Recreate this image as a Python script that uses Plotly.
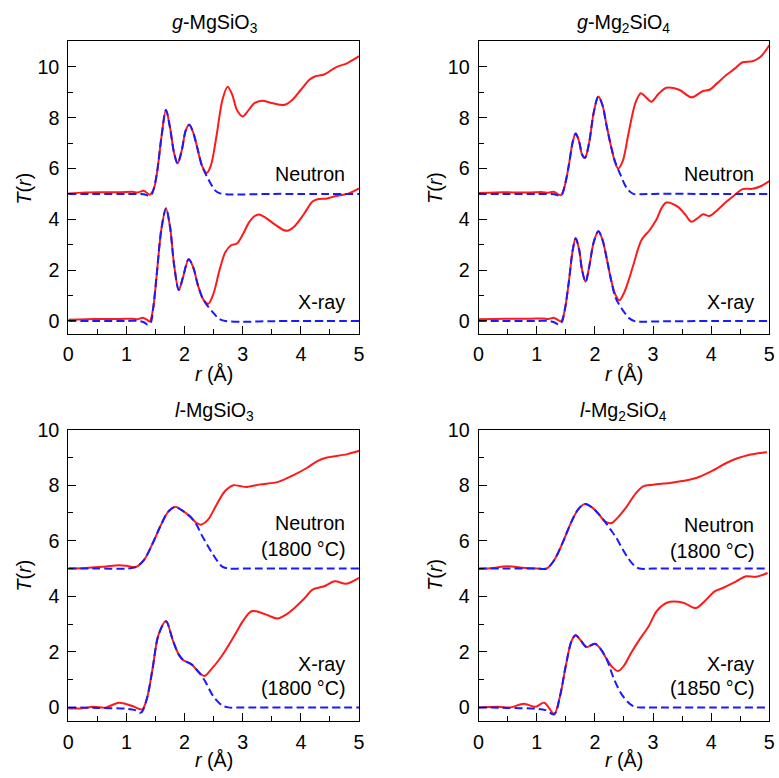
import plotly.graph_objects as go

# ---------------- data ----------------
# Panel A: g-MgSiO3
gA_neu_r = [0, 0.3, 0.6, 0.9, 1.1, 1.2, 1.3, 1.4, 1.47, 1.53, 1.6, 1.68, 1.75, 1.82, 1.88, 1.95, 2.02, 2.08, 2.15, 2.22, 2.3, 2.38, 2.45, 2.55, 2.65, 2.74, 2.82, 2.9, 3.0, 3.1, 3.2, 3.33, 3.5, 3.71, 3.85, 4.0, 4.15, 4.25, 4.4, 4.6, 4.8, 5.0]
gA_neu_T = [5.02, 5.06, 5.07, 5.07, 5.08, 5.06, 5.12, 4.97, 5.2, 5.9, 7.2, 8.3, 7.6, 6.6, 6.2, 6.7, 7.5, 7.72, 7.4, 6.8, 6.1, 5.82, 6.1, 7.3, 8.7, 9.22, 8.9, 8.3, 8.05, 8.3, 8.57, 8.67, 8.58, 8.5, 8.7, 9.1, 9.5, 9.63, 9.7, 9.98, 10.15, 10.42]
gA_neu_fit_r = [0, 0.5, 1.0, 1.2, 1.3, 1.38, 1.43, 1.47, 1.53, 1.6, 1.68, 1.75, 1.82, 1.88, 1.95, 2.02, 2.08, 2.15, 2.22, 2.3, 2.38, 2.45, 2.52, 2.6, 2.7, 3.0, 3.5, 4.0, 5.0]
gA_neu_fit_T = [5.0, 5.0, 5.0, 5.0, 4.99, 4.93, 4.97, 5.2, 5.9, 7.2, 8.3, 7.6, 6.6, 6.2, 6.7, 7.5, 7.72, 7.4, 6.8, 6.1, 5.7, 5.4, 5.15, 5.03, 4.99, 4.98, 5.0, 5.0, 5.0]
gA_xr_r = [0, 0.3, 0.6, 0.9, 1.1, 1.2, 1.28, 1.35, 1.4, 1.46, 1.52, 1.6, 1.68, 1.75, 1.82, 1.9, 1.97, 2.07, 2.15, 2.23, 2.32, 2.41, 2.5, 2.6, 2.7, 2.8, 2.9, 3.0, 3.1, 3.2, 3.28, 3.4, 3.55, 3.7, 3.77, 3.9, 4.05, 4.2, 4.3, 4.45, 4.6, 4.8, 5.0]
gA_xr_T = [0.05, 0.07, 0.08, 0.08, 0.09, 0.07, 0.13, 0.05, -0.02, 0.5, 1.8, 3.6, 4.43, 3.7, 2.2, 1.22, 1.7, 2.43, 2.1, 1.4, 0.85, 0.68, 1.1, 2.0, 2.7, 2.98, 3.05, 3.4, 3.85, 4.12, 4.19, 4.05, 3.8, 3.58, 3.55, 3.75, 4.2, 4.7, 4.8, 4.82, 4.92, 5.0, 5.22]
gA_xr_fit_r = [0, 0.5, 1.0, 1.2, 1.3, 1.37, 1.42, 1.46, 1.52, 1.6, 1.68, 1.75, 1.82, 1.9, 1.97, 2.07, 2.15, 2.23, 2.32, 2.41, 2.49, 2.56, 2.62, 2.7, 3.0, 3.5, 4.0, 5.0]
gA_xr_fit_T = [0, 0, 0, 0, -0.05, -0.15, -0.05, 0.5, 1.8, 3.6, 4.43, 3.7, 2.2, 1.22, 1.7, 2.43, 2.1, 1.4, 0.85, 0.55, 0.33, 0.15, 0.05, 0.0, -0.03, -0.01, 0, 0]

# Panel B: g-Mg2SiO4
gB_neu_r = [0, 0.3, 0.6, 0.9, 1.1, 1.2, 1.29, 1.42, 1.48, 1.55, 1.62, 1.67, 1.73, 1.78, 1.83, 1.9, 1.98, 2.06, 2.13, 2.2, 2.28, 2.34, 2.4, 2.48, 2.58, 2.7, 2.79, 2.88, 2.97, 3.1, 3.23, 3.45, 3.66, 3.86, 3.97, 4.1, 4.26, 4.4, 4.54, 4.71, 4.85, 5.0]
gB_neu_T = [5.04, 5.06, 5.06, 5.06, 5.07, 5.05, 5.08, 4.95, 5.3, 6.1, 7.05, 7.38, 7.05, 6.55, 6.42, 7.0, 8.2, 8.83, 8.5, 7.7, 6.85, 6.3, 6.0, 6.3, 7.4, 8.6, 8.96, 8.8, 8.63, 8.95, 9.18, 9.1, 8.8, 9.05, 9.1, 9.35, 9.68, 9.92, 10.18, 10.22, 10.4, 10.85]
gB_neu_fit_r = [0, 0.5, 1.0, 1.2, 1.3, 1.38, 1.43, 1.48, 1.55, 1.62, 1.67, 1.73, 1.78, 1.83, 1.9, 1.98, 2.06, 2.13, 2.2, 2.28, 2.35, 2.43, 2.55, 2.66, 2.8, 3.0, 4.0, 5.0]
gB_neu_fit_T = [5.0, 5.0, 5.0, 5.0, 4.99, 4.93, 4.97, 5.3, 6.1, 7.05, 7.38, 7.05, 6.55, 6.42, 7.0, 8.2, 8.83, 8.5, 7.7, 6.85, 6.25, 5.81, 5.22, 5.0, 4.99, 5.0, 5.0, 5.0]
gB_xr_r = [0, 0.3, 0.6, 0.9, 1.1, 1.2, 1.3, 1.42, 1.48, 1.55, 1.62, 1.67, 1.73, 1.78, 1.84, 1.9, 1.98, 2.06, 2.13, 2.2, 2.28, 2.35, 2.42, 2.5, 2.58, 2.66, 2.8, 2.94, 3.05, 3.15, 3.23, 3.43, 3.55, 3.66, 3.77, 3.86, 3.97, 4.1, 4.26, 4.4, 4.54, 4.71, 4.85, 5.0]
gB_xr_T = [0.07, 0.08, 0.09, 0.09, 0.1, 0.08, 0.12, -0.01, 0.4, 1.5, 2.8, 3.25, 2.8, 2.0, 1.54, 2.1, 3.1, 3.53, 3.2, 2.5, 1.6, 1.05, 0.81, 1.1, 1.6, 2.19, 3.18, 3.57, 3.95, 4.45, 4.66, 4.49, 4.2, 3.9, 4.05, 4.2, 4.13, 4.35, 4.69, 4.95, 5.19, 5.2, 5.3, 5.5]
gB_xr_fit_r = [0, 0.5, 1.0, 1.2, 1.3, 1.38, 1.43, 1.48, 1.55, 1.62, 1.67, 1.73, 1.78, 1.84, 1.9, 1.98, 2.06, 2.13, 2.2, 2.28, 2.35, 2.46, 2.6, 2.7, 3.0, 4.0, 5.0]
gB_xr_fit_T = [0, 0, 0, 0, -0.05, -0.14, -0.05, 0.4, 1.5, 2.8, 3.25, 2.8, 2.0, 1.54, 2.1, 3.1, 3.53, 3.2, 2.5, 1.6, 0.95, 0.49, 0.09, -0.02, -0.02, 0, 0]

# Panel C: l-MgSiO3
lA_neu_r = [0, 0.3, 0.6, 0.87, 1.0, 1.16, 1.3, 1.45, 1.6, 1.72, 1.84, 1.95, 2.09, 2.2, 2.28, 2.4, 2.55, 2.7, 2.84, 2.95, 3.07, 3.3, 3.61, 3.89, 4.1, 4.29, 4.45, 4.58, 4.8, 5.0]
lA_neu_T = [5.0, 5.02, 5.06, 5.12, 5.1, 5.05, 5.3, 5.9, 6.6, 7.05, 7.22, 7.1, 6.88, 6.65, 6.58, 6.75, 7.3, 7.8, 8.0, 7.97, 7.94, 8.03, 8.12, 8.38, 8.62, 8.88, 9.0, 9.04, 9.12, 9.24]
lA_neu_fit_r = [0, 0.5, 1.0, 1.16, 1.3, 1.45, 1.6, 1.72, 1.84, 1.95, 2.09, 2.2, 2.29, 2.39, 2.49, 2.57, 2.64, 2.75, 3.0, 4.0, 5.0]
lA_neu_fit_T = [5.0, 5.0, 5.0, 5.05, 5.3, 5.9, 6.6, 7.05, 7.22, 7.1, 6.88, 6.6, 6.22, 5.85, 5.5, 5.25, 5.08, 5.0, 5.0, 5.0, 5.0]
lA_xr_r = [0, 0.2, 0.44, 0.64, 0.87, 1.1, 1.27, 1.35, 1.45, 1.55, 1.68, 1.8, 1.9, 1.98, 2.12, 2.25, 2.34, 2.45, 2.64, 2.87, 3.0, 3.15, 3.3, 3.45, 3.6, 3.75, 3.89, 4.05, 4.2, 4.4, 4.58, 4.78, 5.0]
lA_xr_T = [-0.04, -0.04, 0.02, -0.01, 0.17, 0.05, -0.07, 0.3, 1.4, 2.6, 3.1, 2.4, 1.9, 1.7, 1.55, 1.25, 1.13, 1.35, 1.85, 2.63, 3.1, 3.46, 3.42, 3.3, 3.2, 3.35, 3.58, 3.9, 4.24, 4.36, 4.54, 4.45, 4.66]
lA_xr_fit_r = [0, 0.5, 1.0, 1.15, 1.25, 1.35, 1.45, 1.55, 1.68, 1.8, 1.9, 1.98, 2.12, 2.25, 2.35, 2.49, 2.64, 2.75, 3.0, 4.0, 5.0]
lA_xr_fit_T = [0, -0.02, -0.05, -0.1, -0.19, 0.3, 1.4, 2.6, 3.1, 2.4, 1.9, 1.7, 1.55, 1.25, 0.95, 0.41, 0.08, 0.0, 0.0, 0.0, 0.0]

# Panel D: l-Mg2SiO4
lB_neu_r = [0, 0.25, 0.49, 0.75, 1.0, 1.17, 1.3, 1.45, 1.6, 1.72, 1.83, 1.95, 2.07, 2.17, 2.29, 2.4, 2.55, 2.7, 2.83, 3.0, 3.29, 3.5, 3.74, 4.0, 4.26, 4.45, 4.66, 4.8, 4.96]
lB_neu_T = [4.98, 5.02, 5.08, 5.03, 5.0, 5.0, 5.3, 5.95, 6.7, 7.15, 7.32, 7.2, 6.95, 6.7, 6.64, 6.85, 7.24, 7.7, 7.96, 8.02, 8.08, 8.15, 8.26, 8.5, 8.8, 8.97, 9.1, 9.15, 9.19]
lB_neu_fit_r = [0, 0.5, 1.0, 1.17, 1.3, 1.45, 1.6, 1.72, 1.83, 1.95, 2.07, 2.17, 2.27, 2.37, 2.47, 2.57, 2.67, 2.77, 3.0, 4.0, 5.0]
lB_neu_fit_T = [5.0, 5.0, 5.0, 5.0, 5.3, 5.95, 6.7, 7.15, 7.32, 7.2, 6.95, 6.7, 6.4, 6.1, 5.72, 5.38, 5.12, 5.0, 5.0, 5.0, 5.0]
lB_xr_r = [0, 0.34, 0.55, 0.78, 0.98, 1.13, 1.3, 1.4, 1.5, 1.6, 1.67, 1.76, 1.86, 2.0, 2.1, 2.2, 2.3, 2.4, 2.5, 2.62, 2.77, 2.92, 3.06, 3.18, 3.29, 3.52, 3.74, 3.9, 4.06, 4.2, 4.43, 4.6, 4.77, 4.97]
lB_xr_T = [0.0, 0.02, 0.0, 0.13, 0.02, 0.17, -0.23, 0.4, 1.5, 2.4, 2.6, 2.4, 2.17, 2.29, 2.1, 1.75, 1.45, 1.31, 1.5, 1.95, 2.45, 2.9, 3.46, 3.7, 3.8, 3.77, 3.58, 3.85, 4.18, 4.3, 4.54, 4.72, 4.7, 4.84]
lB_xr_fit_r = [0, 0.5, 1.0, 1.15, 1.3, 1.4, 1.5, 1.6, 1.67, 1.76, 1.86, 2.0, 2.1, 2.2, 2.32, 2.46, 2.63, 2.75, 3.0, 4.0, 5.0]
lB_xr_fit_T = [0, -0.02, -0.05, -0.1, -0.25, 0.4, 1.5, 2.4, 2.6, 2.4, 2.17, 2.29, 2.1, 1.75, 1.07, 0.47, 0.08, 0.0, 0.0, 0.0, 0.0]

panel_titles = ["<i>g</i>-MgSiO<sub>3</sub>", "<i>g</i>-Mg<sub>2</sub>SiO<sub>4</sub>",
                "<i>l</i>-MgSiO<sub>3</sub>", "<i>l</i>-Mg<sub>2</sub>SiO<sub>4</sub>"]
x_tick_vals = [0, 1, 2, 3, 4, 5]
y_tick_vals_top = [0, 2, 4, 6, 8, 10]
y_tick_vals_bot = [0, 2, 4, 6, 8, 10]

# ---------------- figure ----------------
W, H = 779, 778
# compensation for the observed capture transform (rendered = S*px + O)
SX, OX = 0.990, 2.46
SY, OY = 0.9886, 8.46

def PX(v):
    return (v - OX) / SX

def PY(v):
    return (v - OY) / SY

FONT = "Liberation Sans, Arial, Helvetica, sans-serif"
FS = 19.7
RED = "#ff1a1a"
BLUE = "#1a1aff"

fig = go.Figure()

panels = [
    dict(ax=1, curves=[(gA_neu_r, gA_neu_T, gA_neu_fit_r, gA_neu_fit_T), (gA_xr_r, gA_xr_T, gA_xr_fit_r, gA_xr_fit_T)]),
    dict(ax=2, curves=[(gB_neu_r, gB_neu_T, gB_neu_fit_r, gB_neu_fit_T), (gB_xr_r, gB_xr_T, gB_xr_fit_r, gB_xr_fit_T)]),
    dict(ax=3, curves=[(lA_neu_r, lA_neu_T, lA_neu_fit_r, lA_neu_fit_T), (lA_xr_r, lA_xr_T, lA_xr_fit_r, lA_xr_fit_T)]),
    dict(ax=4, curves=[(lB_neu_r, lB_neu_T, lB_neu_fit_r, lB_neu_fit_T), (lB_xr_r, lB_xr_T, lB_xr_fit_r, lB_xr_fit_T)]),
]

for p in panels:
    i = p["ax"]
    xa = "x" if i == 1 else f"x{i}"
    ya = "y" if i == 1 else f"y{i}"
    for (r, T, rf, Tf) in p["curves"]:
        fig.add_trace(go.Scatter(x=r, y=T, mode="lines", xaxis=xa, yaxis=ya,
                                 line=dict(color=RED, width=2, shape="spline", smoothing=0.9),
                                 showlegend=False, hoverinfo="skip"))
    for (r, T, rf, Tf) in p["curves"]:
        fig.add_trace(go.Scatter(x=rf, y=Tf, mode="lines", xaxis=xa, yaxis=ya,
                                 line=dict(color=BLUE, width=2, dash="8px,4px", shape="spline", smoothing=0.9),
                                 showlegend=False, hoverinfo="skip"))

def xdom(x0, x1):
    return [PX(x0) / W, PX(x1) / W]

def ydom(y_top, y_bot):
    return [1 - PY(y_bot) / H, 1 - PY(y_top) / H]

xdoms = {1: xdom(66, 358), 2: xdom(478, 770), 3: xdom(66, 358), 4: xdom(478, 770)}
ydoms = {1: ydom(39, 332), 2: ydom(39, 332), 3: ydom(428.3, 720.7), 4: ydom(428.3, 720.7)}
yranges = {1: [-0.5, 11], 2: [-0.5, 11], 3: [-0.5, 10], 4: [-0.5, 10]}

axis_common = dict(showline=True, linecolor="black", linewidth=1, mirror=True,
                   ticks="inside", ticklen=8, tickwidth=1, tickcolor="black",
                   showgrid=False, zeroline=False,
                   tickfont=dict(family=FONT, size=FS, color="black"))

for i in range(1, 5):
    xk = "xaxis" if i == 1 else f"xaxis{i}"
    yk = "yaxis" if i == 1 else f"yaxis{i}"
    ya = "y" if i == 1 else f"y{i}"
    xa = "x" if i == 1 else f"x{i}"
    fig.layout[xk] = dict(domain=xdoms[i], anchor=ya, range=[0, 5],
                          tickvals=x_tick_vals, ticklabelstandoff=3,
                          minor=dict(dtick=0.5, tick0=0, ticks="inside", ticklen=5, tickcolor="black"),
                          **axis_common)
    fig.layout[yk] = dict(domain=ydoms[i], anchor=xa, range=yranges[i],
                          tickvals=(y_tick_vals_top if i <= 2 else y_tick_vals_bot), ticklabelstandoff=4,
                          minor=dict(dtick=1, tick0=0, ticks="inside", ticklen=5, tickcolor="black"),
                          **axis_common)

annotations = []
def pa(text, x_px, y_px, size=FS, xanchor="center", yanchor="middle", angle=0):
    annotations.append(dict(text=text, x=PX(x_px) / W, y=1 - PY(y_px) / H, xref="paper", yref="paper",
                            showarrow=False, xanchor=xanchor, yanchor=yanchor, textangle=angle,
                            font=dict(family=FONT, size=size, color="black")))

pa(panel_titles[0], 213, 21)
pa(panel_titles[1], 624, 21)
pa(panel_titles[2], 213, 410)
pa(panel_titles[3], 624, 410)
for xc in (212, 624):
    pa("<i>r</i> (Å)", xc, 372)
    pa("<i>r</i> (Å)", xc, 760)
for xc in (22, 434):
    pa("<i>T</i>(<i>r</i>)", xc, 186, angle=-90)
    pa("<i>T</i>(<i>r</i>)", xc, 574, angle=-90)

pa("Neutron", 346, 172, xanchor="right")
pa("X-ray", 346, 300, xanchor="right")
pa("Neutron", 757, 172, xanchor="right")
pa("X-ray", 757, 300, xanchor="right")
pa("Neutron", 346, 522, xanchor="right")
pa("(1800 °C)", 346, 548, xanchor="right")
pa("X-ray", 346, 663, xanchor="right")
pa("(1800 °C)", 346, 687, xanchor="right")
pa("Neutron", 757, 524, xanchor="right")
pa("(1800 °C)", 757, 550, xanchor="right")
pa("X-ray", 757, 663, xanchor="right")
pa("(1850 °C)", 757, 687, xanchor="right")

fig.update_layout(width=W, height=H, margin=dict(l=0, r=0, t=0, b=0),
                  paper_bgcolor="white", plot_bgcolor="white",
                  annotations=annotations, font=dict(family=FONT))

fig.write_html("out.html")
